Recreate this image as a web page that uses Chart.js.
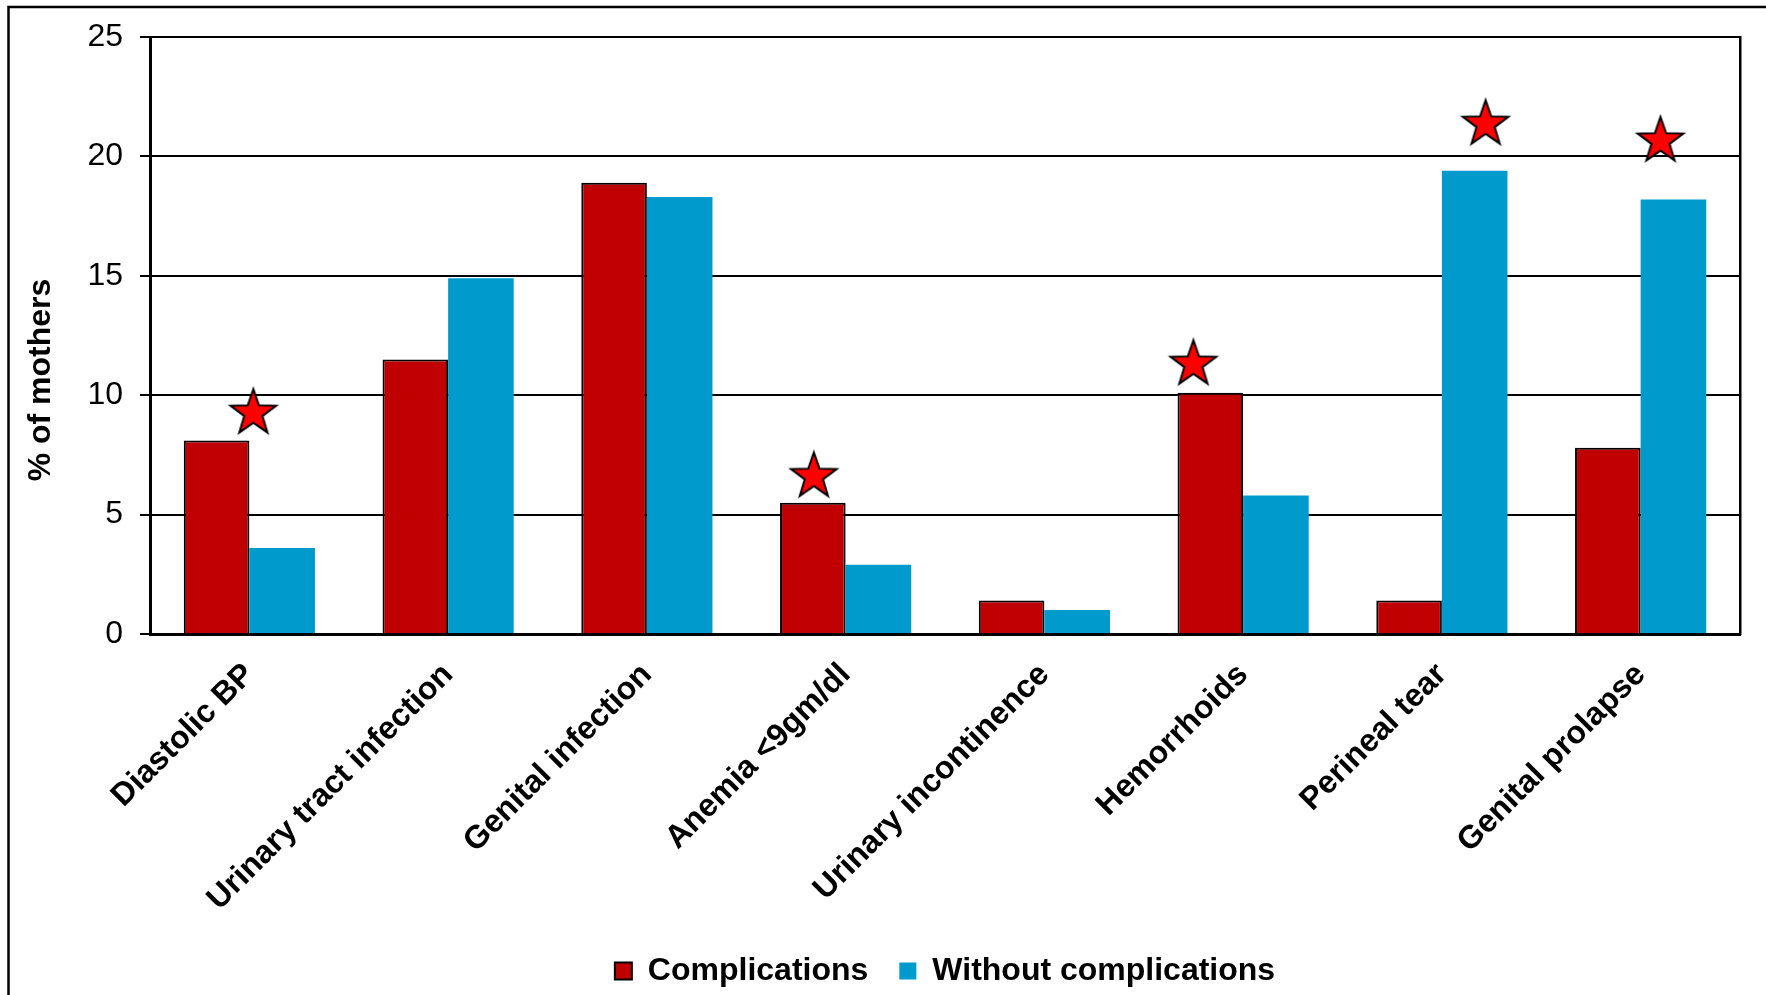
<!DOCTYPE html>
<html>
<head>
<meta charset="utf-8">
<script src="https://cdn.jsdelivr.net/npm/chart.js@4/dist/chart.umd.min.js"></script>
<style>
  html, body { margin: 0; padding: 0; background: #fff; }
  #wrap { position: relative; width: 1766px; height: 995px; }
</style>
</head>
<body>
<div id="wrap"><canvas id="chart"></canvas></div>
<script>
// Complication categories and the share of mothers (%) in each group
const categories = [
  'Diastolic BP',
  'Urinary tract infection',
  'Genital infection',
  'Anemia <9gm/dl',
  'Urinary incontinence',
  'Hemorrhoids',
  'Perineal tear',
  'Genital prolapse'
];
const complications = [8.1, 11.5, 18.9, 5.5, 1.4, 10.1, 1.4, 7.8];
const withoutComplications = [3.6, 14.9, 18.3, 2.9, 1.0, 5.8, 19.4, 18.2];

// Significance markers: position along the category axis (index units) and height (%)
const starIndex = [0.02, 2.84, 4.75, 6.22, 7.10];
const starValue = [9.25, 6.6, 11.3, 21.35, 20.65];

const yTicks = [0, 5, 10, 15, 20, 25];
const yTitle = '% of mothers';

const FONT = "'Liberation Sans', Arial, Helvetica, sans-serif";

// Five-pointed star used as the marker image
function makeStar(R) {
  const pad = 3;
  const size = Math.ceil(2 * R + 2 * pad);
  const c = document.createElement('canvas');
  c.width = size; c.height = size;
  const ctx = c.getContext('2d');
  const cx = size / 2, cy = size / 2, r = R * 0.40;
  ctx.beginPath();
  for (let i = 0; i < 10; i++) {
    const rad = i % 2 === 0 ? R : r;
    const a = -Math.PI / 2 + i * Math.PI / 5;
    const px = cx + rad * Math.cos(a), py = cy + rad * Math.sin(a);
    if (i === 0) ctx.moveTo(px, py); else ctx.lineTo(px, py);
  }
  ctx.closePath();
  ctx.fillStyle = '#FF0000';
  ctx.fill();
  ctx.lineWidth = 2;
  ctx.lineJoin = 'miter';
  ctx.strokeStyle = '#000';
  ctx.stroke();
  return c;
}
const starImg = makeStar(24);

// Outer frame, white background and rotated value-axis title
const decor = {
  id: 'decor',
  beforeDraw(chart) {
    const ctx = chart.ctx;
    ctx.save();
    ctx.fillStyle = '#fff';
    ctx.fillRect(0, 0, chart.width, chart.height);
    ctx.restore();
  },
  afterDraw(chart) {
    const ctx = chart.ctx;
    ctx.save();
    ctx.strokeStyle = '#000';
    ctx.lineWidth = 2.5;
    ctx.beginPath();
    ctx.moveTo(8.5, chart.height + 5);
    ctx.lineTo(8.5, 7);
    ctx.lineTo(chart.width + 5, 7);
    ctx.stroke();

    ctx.translate(41, 380);
    ctx.rotate(-Math.PI / 2);
    ctx.fillStyle = '#000';
    ctx.font = "bold 32px " + FONT;
    ctx.textAlign = 'center';
    ctx.textBaseline = 'middle';
    ctx.fillText(yTitle, 0, 0);
    ctx.restore();
  }
};

new Chart(document.getElementById('chart'), {
  type: 'bar',
  data: {
    labels: categories,
    datasets: [
      {
        label: 'Complications',
        data: complications,
        backgroundColor: '#C00000',
        borderColor: '#000',
        borderWidth: 2,
        categoryPercentage: 0.66,
        barPercentage: 1.0,
        order: 2
      },
      {
        label: 'Without complications',
        data: withoutComplications,
        backgroundColor: '#009ACD',
        borderWidth: 0,
        categoryPercentage: 0.66,
        barPercentage: 1.0,
        order: 2
      },
      {
        // stars share the category axis; fractional x places them over a bar
        type: 'line',
        label: 'significant',
        parsing: false,
        data: starIndex.map((x, i) => ({ x: x, y: starValue[i] })),
        showLine: false,
        pointStyle: starImg,
        pointRadius: 24,
        order: 0
      }
    ]
  },
  options: {
    responsive: true,
    maintainAspectRatio: false,
    animation: false,
    events: [],
    layout: { padding: { left: 0, right: 26, top: 37, bottom: -2 } },
    plugins: {
      tooltip: { enabled: false },
      legend: {
        position: 'bottom',
        fullSize: false,
        labels: {
          color: '#000',
          font: { family: FONT, size: 32, weight: 'bold' },
          boxWidth: 17,
          boxHeight: 17,
          padding: 31,
          filter: (item) => item.datasetIndex < 2
        }
      }
    },
    scales: {
      x: {
        type: 'category',
        grid: { display: false, drawTicks: false },
        border: { display: true, color: '#000', width: 3 },
        ticks: {
          color: '#000',
          font: { family: FONT, size: 32, weight: 'bold' },
          maxRotation: 45,
          minRotation: 45,
          autoSkip: false,
          padding: 22
        },
        afterFit(s) { s.height = 290; }
      },
      y: {
        min: 0,
        max: 25,
        afterBuildTicks(s) { s.ticks = yTicks.map(v => ({ value: v })); },
        ticks: {
          color: '#000',
          font: { family: FONT, size: 32 },
          padding: 17
        },
        grid: { color: '#000', lineWidth: 2, tickLength: 10, drawTicks: true },
        border: { display: true, color: '#000', width: 3 },
        afterFit(s) { s.width = 150; }
      },
      yr: {
        position: 'right',
        min: 0,
        max: 25,
        ticks: { display: false },
        grid: { drawOnChartArea: false, drawTicks: false },
        border: { display: true, color: '#000', width: 2.5 },
        afterFit(s) { s.width = 0; }
      }
    }
  },
  plugins: [decor]
});
</script>
</body>
</html>
